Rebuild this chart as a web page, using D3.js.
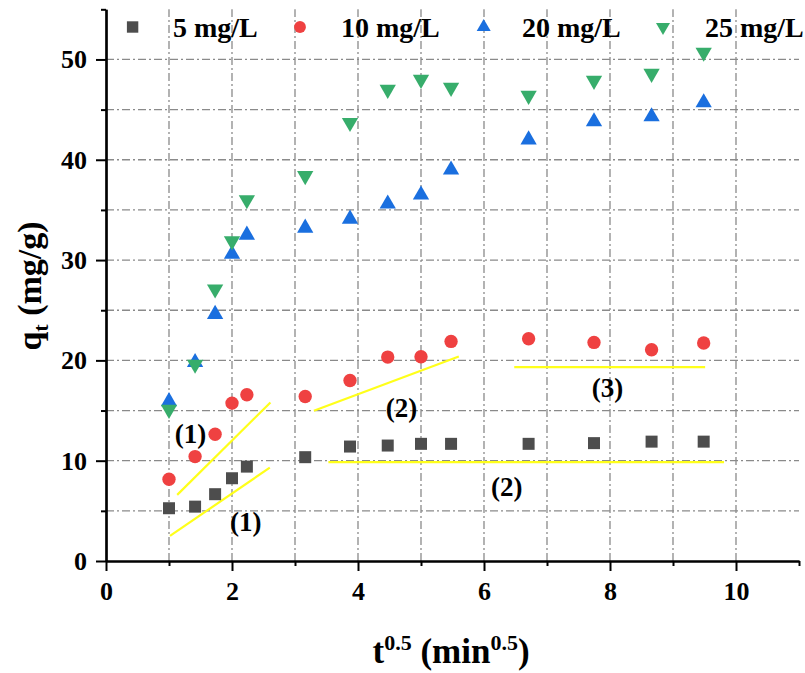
<!DOCTYPE html>
<html><head><meta charset="utf-8">
<script src="https://cdn.jsdelivr.net/npm/d3@7"></script>
</head>
<body style="margin:0"><svg id="c" width="805" height="673"></svg>
<script>
// ---- data ----
const tSqrt = [1, 1.414, 1.732, 2, 2.236, 3.162, 3.873, 4.472, 5, 5.477, 6.708, 7.746, 8.660, 9.487];
const q5  = [5.26, 5.42, 6.66, 8.25, 9.41, 10.35, 11.41, 11.51, 11.68, 11.68, 11.68, 11.75, 11.9, 11.9];
const q10 = [8.15, 10.41, 12.64, 15.74, 16.57, 16.4, 17.99, 20.33, 20.36, 21.89, 22.16, 21.79, 21.06, 21.73];
const q20 = [15.9, 19.8, 24.6, 30.6, 32.5, 33.2, 34.1, 35.6, 36.5, 39.0, 42.0, 43.8, 44.3, 45.7];
const q25 = [15.1, 19.6, 27.1, 31.9, 36.0, 38.4, 43.7, 47.0, 48.0, 47.2, 46.4, 47.9, 48.6, 50.7];
const seriesNames = ["5 mg/L", "10 mg/L", "20 mg/L", "25 mg/L"];
const xTickLabels = [0, 2, 4, 6, 8, 10];
const yTickLabels = [0, 10, 20, 30, 40, 50];
// fitted segments [x1, y1, x2, y2]
const fitLines = [
  [1.13, 6.59, 2.61, 15.8],
  [1.016, 2.5, 2.60, 9.31],
  [3.30, 14.97, 5.60, 20.39],
  [3.53, 9.85, 9.81, 9.85],
  [6.48, 19.33, 9.51, 19.33]
];
const fitLabels = [
  ["(1)", 1.34, 12.7], ["(1)", 2.22, 3.93], ["(2)", 4.69, 15.24],
  ["(2)", 6.36, 7.41], ["(3)", 7.96, 17.2]
];

// ---- layout ----
const svg = d3.select("#c");
const x = d3.scaleLinear().domain([0, 11]).range([106, 799]);
const y = d3.scaleLinear().domain([0, 55]).range([561, 9.3]);
const colors = ["#4d4d4d", "#ef4141", "#1a6fdf", "#37ad6b"];
const data = [q5, q10, q20, q25];

function serif(sel, size){
  sel.attr("font-family", `"Liberation Serif"`).attr("font-weight", "bold").attr("font-size", size).attr("fill", "#000");
  return sel;
}

// grid
const gridStyle = g => g.attr("stroke", "#8a8a8a").attr("stroke-width", 1.3).attr("stroke-dasharray", "8,3,2,3").attr("fill", "none");
const grid = svg.append("g");
grid.selectAll(".vg").data(d3.range(1, 11)).join("line")
  .attr("x1", d => x(d)).attr("x2", d => x(d)).attr("y1", y(0)).attr("y2", y(55)).call(gridStyle);
grid.selectAll(".hg").data(d3.range(5, 55, 5)).join("line")
  .attr("x1", x(0)).attr("x2", x(11)).attr("y1", d => y(d)).attr("y2", d => y(d)).call(gridStyle);

// axes
const xAxisMajor = d3.axisBottom(x).tickValues(xTickLabels).tickSize(10).tickSizeOuter(0).tickPadding(11).tickFormat(d3.format("d"));
const xAxisMinor = d3.axisBottom(x).tickValues(d3.range(1, 12, 2)).tickSize(5).tickSizeOuter(0).tickFormat("");
const yAxisMajor = d3.axisLeft(y).tickValues(yTickLabels).tickSize(10).tickSizeOuter(0).tickPadding(9).tickFormat(d3.format("d"));
const yAxisMinor = d3.axisLeft(y).tickValues(d3.range(5, 56, 10)).tickSize(5).tickSizeOuter(0).tickFormat("");

function styleAxis(g){
  g.attr("font-family", null).attr("font-size", null);
  g.selectAll("path").attr("stroke", "#000").attr("stroke-width", 2.2);
  g.selectAll("line").attr("stroke", "#000").attr("stroke-width", 2);
  g.selectAll("text").call(serif, 26);
}
svg.append("g").attr("transform", `translate(0,${y(0)})`).call(xAxisMinor).call(styleAxis);
svg.append("g").attr("transform", `translate(0,${y(0)})`).call(xAxisMajor).call(styleAxis);
svg.append("g").attr("transform", `translate(${x(0)},0)`).call(yAxisMinor).call(styleAxis);
svg.append("g").attr("transform", `translate(${x(0)},0)`).call(yAxisMajor).call(styleAxis);

// fit lines
svg.append("g").selectAll("line").data(fitLines).join("line")
  .attr("x1", d => x(d[0])).attr("y1", d => y(d[1])).attr("x2", d => x(d[2])).attr("y2", d => y(d[3]))
  .attr("stroke", "#ffff1a").attr("stroke-width", 2.2);

// markers
const symbols = [
  d3.symbol().type(d3.symbolSquare).size(144),
  d3.symbol().type(d3.symbolCircle).size(140),
  d3.symbol().type(d3.symbolTriangle).size(115),
  d3.symbol().type(d3.symbolTriangle).size(115)
];
data.forEach((arr, i) => {
  svg.append("g").selectAll("path").data(arr).join("path")
    .attr("d", symbols[i]())
    .attr("transform", (d, j) => `translate(${x(tSqrt[j])},${y(d)})` + (i === 3 ? " rotate(180)" : ""))
    .attr("fill", colors[i]);
});

// fit labels
svg.append("g").selectAll("text").data(fitLabels).join("text")
  .attr("x", d => x(d[1])).attr("y", d => y(d[2]) + 9)
  .attr("text-anchor", "middle")
  .call(serif, 27)
  .text(d => d[0]);

// legend
const legX = [132.6, 300, 483.7, 663];
const legTX = [173, 341, 522, 705];
const legSyms = [
  d3.symbol().type(d3.symbolSquare).size(130),
  d3.symbol().type(d3.symbolCircle).size(110),
  d3.symbol().type(d3.symbolTriangle).size(85),
  d3.symbol().type(d3.symbolTriangle).size(85)
];
seriesNames.forEach((n, i) => {
  svg.append("path").attr("d", legSyms[i]())
    .attr("transform", `translate(${legX[i]},27)` + (i === 3 ? " rotate(180)" : ""))
    .attr("fill", colors[i]);
  svg.append("text").attr("x", legTX[i]).attr("y", 37).call(serif, 28).text(n);
});

// axis titles
const xt = svg.append("text").attr("x", 451).attr("y", 663).attr("text-anchor", "middle").call(serif, 35);
xt.append("tspan").text("t");
xt.append("tspan").attr("dy", -13).attr("font-size", 22).text("0.5");
xt.append("tspan").attr("dy", 13).text(" (min");
xt.append("tspan").attr("dy", -13).attr("font-size", 22).text("0.5");
xt.append("tspan").attr("dy", 13).text(")");

const yt = svg.append("text").attr("transform", "translate(41,286) rotate(-90)").attr("text-anchor", "middle").call(serif, 34);
yt.append("tspan").text("q");
yt.append("tspan").attr("dy", 7).attr("font-size", 22).text("t");
yt.append("tspan").attr("dy", -7).text(" (mg/g)");
</script></body></html>
